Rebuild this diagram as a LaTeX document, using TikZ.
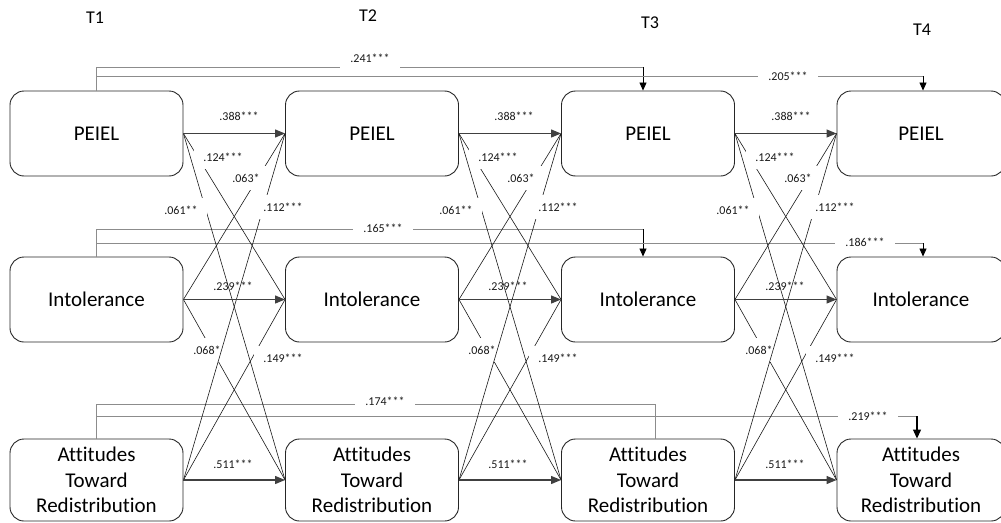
\documentclass[tikz,border=0pt]{standalone}
\usepackage{fontspec}
\setmainfont{Carlito}[Ligatures=NoCommon]
\usetikzlibrary{arrows.meta,calc}
\begin{document}
\begin{tikzpicture}[x=1pt,y=-1pt,
 box/.style={draw=black!85, line width=0.9pt, rounded corners=14pt, minimum height=85pt, inner sep=0pt, align=center, font=\fontsize{21}{25.5}\selectfont},
 ttl/.style={font=\fontsize{18}{20}\selectfont},
 hlab/.style={font=\fontsize{12}{14}\selectfont, text=black!90, inner sep=1pt},
 clab/.style={hlab, fill=white, inner xsep=9pt, inner ysep=8pt},
 llab/.style={hlab, fill=white, inner xsep=10pt, minimum height=22pt},
 stab/.style={draw=black!75, line width=1.2pt, -{Triangle[length=10pt,width=8pt]}},
 xlag/.style={draw=black!90, line width=0.6pt},
 lng/.style={draw=black!45, line width=0.8pt},
 lngv/.style={draw=black, line width=0.8pt, -{Triangle[length=8pt,width=7pt]}},
]
\useasboundingbox (0,0) rectangle (1001,522);

% titles
\node[ttl] (t1) at (95,18) {T1};
\node[ttl] (t2) at (368,16) {T2};
\node[ttl] (t3) at (650,23) {T3};
\node[ttl] (t4) at (922,30) {T4};

% boxes
\node[box, minimum width=173pt] (p1) at (96.5,133.5) {PEIEL};
\node[box, minimum width=173pt] (p2) at (372,133.5) {PEIEL};
\node[box, minimum width=173pt] (p3) at (648,133.5) {PEIEL};
\node[box, minimum width=168pt] (p4) at (921,133.5) {PEIEL};
\node[box, minimum width=173pt] (i1) at (96.5,299.5) {Intolerance};
\node[box, minimum width=173pt] (i2) at (372,299.5) {Intolerance};
\node[box, minimum width=173pt] (i3) at (648,299.5) {Intolerance};
\node[box, minimum width=168pt] (i4) at (921,299.5) {Intolerance};
\node[box, minimum width=173pt, minimum height=82pt] (a1) at (96.5,480) {Attitudes\\Toward\\Redistribution};
\node[box, minimum width=173pt, minimum height=82pt] (a2) at (372,480) {Attitudes\\Toward\\Redistribution};
\node[box, minimum width=173pt, minimum height=82pt] (a3) at (648,480) {Attitudes\\Toward\\Redistribution};
\node[box, minimum width=168pt, minimum height=82pt] (a4) at (921,480) {Attitudes\\Toward\\Redistribution};

% long-range paths
\coordinate (kp13) at (643,67);
\coordinate (kp14) at (923,76);
\coordinate (ki13) at (643,229);
\coordinate (ki14) at (923,243);
\coordinate (ka13) at (655,404);
\coordinate (ka14) at (917,416);

\draw[lng] (p1.north) |- (kp13);
\draw[lngv] (kp13) -- (kp13 |- p3.north);
\draw[lng] (p1.north) |- (kp14);
\draw[lngv] (kp14) -- (kp14 |- p4.north);
\node[llab] (g241) at (370,58) {.241***};
\node[llab] (g205) at (788,76) {.205***};

\draw[lng] (i1.north) |- (ki13);
\draw[lngv] (ki13) -- (ki13 |- i3.north);
\draw[lng] (i1.north) |- (ki14);
\draw[lngv] (ki14) -- (ki14 |- i4.north);
\node[llab] (g165) at (383,228) {.165***};
\node[llab] (g186) at (865,242) {.186***};

\draw[lng] (a1.north) |- (ka13);
\draw[lng] (ka13) -- (ka13 |- a3.north);
\draw[lng] (a1.north) |- (ka14);
\draw[draw=black, line width=1.2pt, -{Triangle[length=9pt,width=8pt]}] (ka14) -- (ka14 |- a4.north);
\node[llab] (g174) at (385,401) {.174***};
\node[llab] (g219) at (868,416) {.219***};

% cross-lagged panels
\foreach \s/\t/\d in {1/2/0, 2/3/275, 3/4/552}{
  \draw[xlag] (p\s.east) -- (i\t.west);
  \draw[xlag] (i\s.east) -- (p\t.west);
  \draw[xlag] (i\s.east) -- (a\t.west);
  \draw[xlag] (a\s.east) -- (i\t.west);
  \node[clab] (l124\s) at (223+\d,157) {.124***};
  \node[clab] (l063\s) at (246+\d,178) {.063*};
  \node[clab] (l068\s) at (207+\d,350) {.068*};
  \node[clab] (l149\s) at (283+\d,358) {.149***};
  \draw[xlag] (p\s.east) -- (a\t.west);
  \draw[xlag] (a\s.east) -- (p\t.west);
  \node[clab] (l061\s) at (181+\d,210) {.061**};
  \node[clab] (l112\s) at (283+\d,207) {.112***};
  \draw[stab] (p\s.east) -- (p\t.west);
  \draw[stab] (i\s.east) -- (i\t.west);
  \draw[stab] (a\s.east) -- (a\t.west);
  \node[hlab] (l388\s) at (239+\d,116) {.388***};
  \node[hlab] (l239\s) at (233+\d,286) {.239***};
  \node[hlab] (l511\s) at (233+\d,464) {.511***};
}
\end{tikzpicture}
\end{document}
